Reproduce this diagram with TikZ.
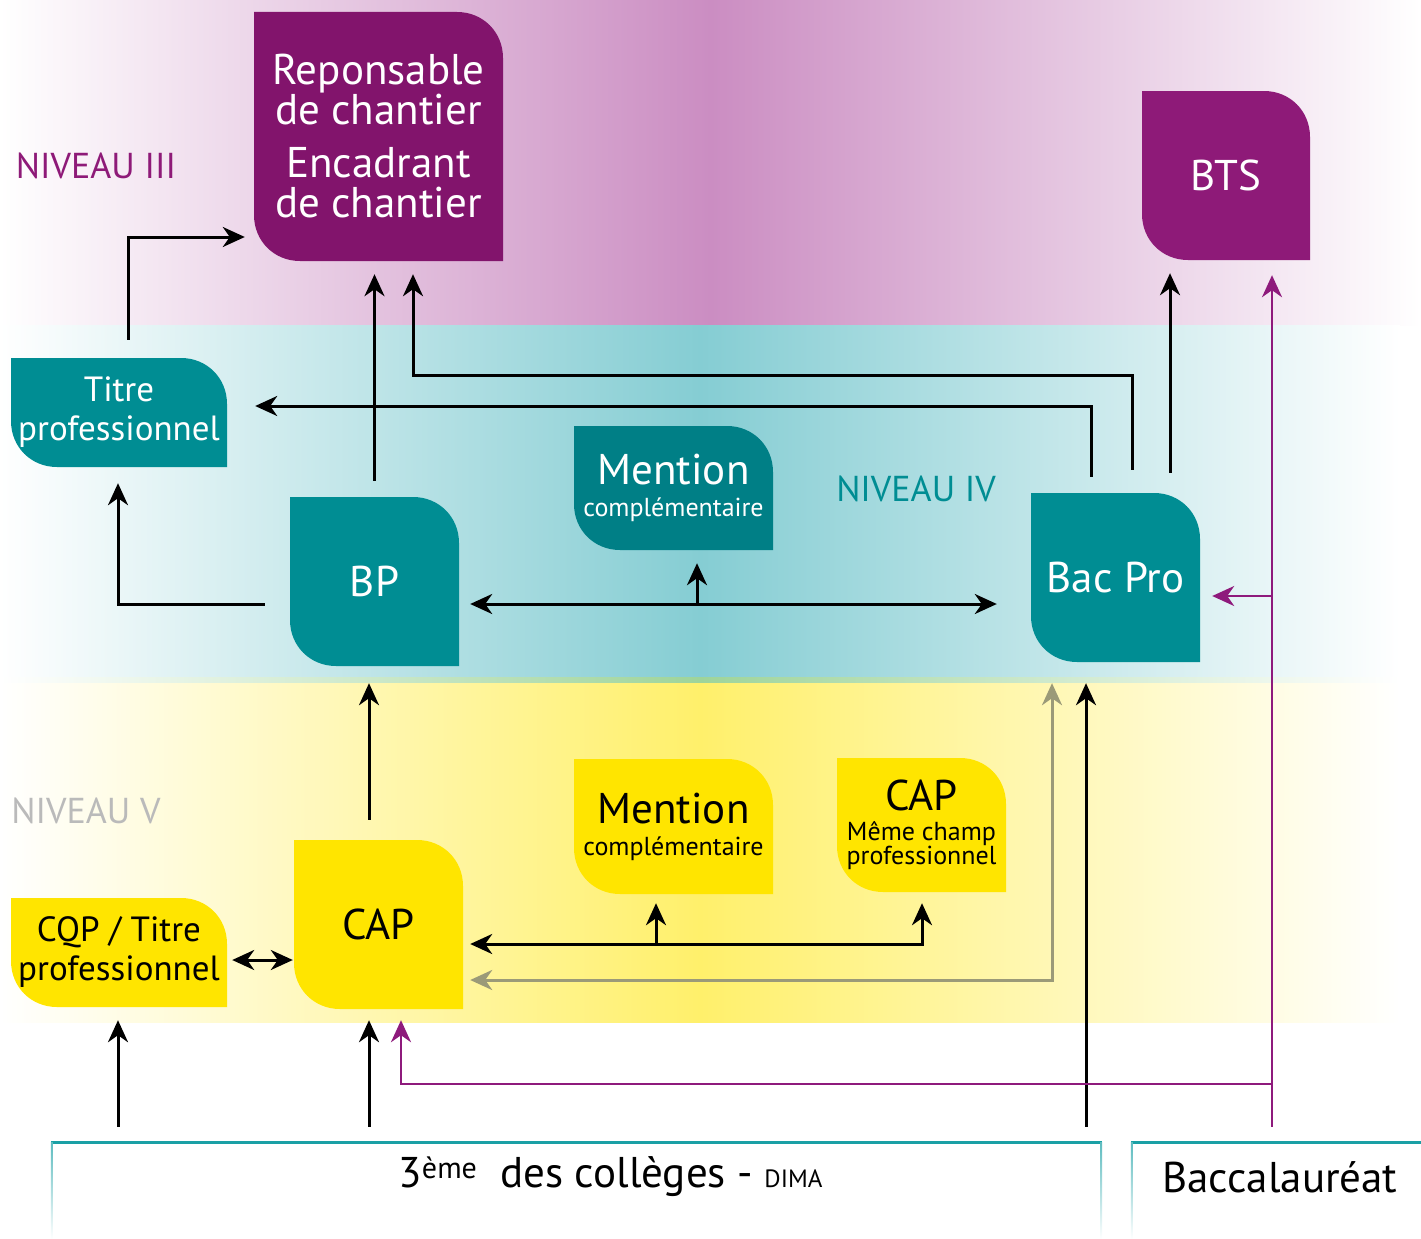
\documentclass[tikz,border=0pt]{standalone}
\usepackage{fontspec}
\setmainfont{PT Sans}
\usetikzlibrary{arrows.meta}

\definecolor{violetresp}{HTML}{82146C}
\definecolor{violetbts}{HTML}{8E1A78}
\definecolor{bleubloc}{HTML}{008D93}
\definecolor{bleumention}{HTML}{007F86}
\definecolor{jaunebloc}{HTML}{FFE500}
\definecolor{bandeviolet}{HTML}{CB8DC2}
\definecolor{bandebleu}{HTML}{85CDD3}
\definecolor{bandejaune}{HTML}{FFF06B}
\definecolor{vertligne}{HTML}{9ED49A}
\definecolor{violetfleche}{HTML}{8E1A7C}
\definecolor{grisfleche}{HTML}{9B9A78}
\definecolor{bleucadre}{HTML}{1AA0A5}

\begin{document}
\begin{tikzpicture}[x=1pt, y=-1pt,
	>={Stealth[length=22pt,width=20pt,inset=7pt]},
	bloc/.style={inner sep=0pt, align=center, path picture={
		\coordinate (ne) at (path picture bounding box.north east);
		\coordinate (sw) at (path picture bounding box.south west);
		\fill[#1] (sw |- ne) -- ([xshift=-46pt]ne)
			.. controls ([xshift=-20pt]ne) and ([yshift=-20pt]ne) .. ([yshift=-46pt]ne)
			-- (ne |- sw) -- ([xshift=46pt]sw)
			.. controls ([xshift=20pt]sw) and ([yshift=20pt]sw) .. ([yshift=46pt]sw) -- cycle;}},
	grand/.style={minimum width=169pt, minimum height=169pt},
	moyen/.style={minimum width=199pt},
	petit/.style={minimum width=216pt, minimum height=109pt},
	titre/.style={font=\fontsize{43}{38}\selectfont},
	texte/.style={font=\fontsize{35}{39}\selectfont},
	mention/.style={font=\fontsize{26}{32}\selectfont},
	niveau/.style={font=\fontsize{36}{40}\selectfont},
	fleche/.style={line width=3pt, ->, shorten >=13pt, shorten <=16pt},
	flechev/.style={line width=2.5pt, violetfleche, ->, shorten >=13pt, shorten <=16pt}]

\useasboundingbox (0,0) rectangle (1421,1239);

% les bandes des niveaux
\shade[left color=white, right color=white, middle color=bandeviolet] (0,0) rectangle (1421,325);
\shade[left color=white, right color=white, middle color=bandebleu] (0,325) rectangle (1400,678);
\shade[left color=white, right color=white, middle color=vertligne] (0,677) rectangle (1400,683);
\shade[left color=white, right color=white, middle color=bandejaune] (0,683) rectangle (1400,1022);

\node[niveau, text=violetbts] (n3) at (96,166) {NIVEAU III};
\node[niveau, text=bleubloc] (n4) at (916,489) {NIVEAU IV};
\node[niveau, text=black!27] (n5) at (86,811) {NIVEAU V};

% niveau III
\node[bloc=violetresp, text=white, font=\fontsize{43}{40}\selectfont, minimum width=249pt, minimum height=249pt] (resp) at (378.5,136.5)
	{Reponsable\\de chantier\\[13pt]Encadrant\\de chantier};
\node[bloc=violetbts, text=white, titre, minimum width=168pt, minimum height=169pt] (bts) at (1226,175.5) {BTS};

% niveau IV
\node[bloc=bleubloc, text=white, texte, petit] (titre) at (119,412.5) {Titre\\professionnel};
\node[bloc=bleubloc, text=white, titre, grand] (bp) at (374.5,581.5) {BP};
\node[bloc=bleumention, text=white, mention, moyen, minimum height=124pt] (mc4) at (673.5,488)
	{{\fontsize{43}{38}\selectfont Mention}\\complémentaire};
\node[bloc=bleubloc, text=white, titre, grand] (bacpro) at (1115.5,577.5) {Bac Pro};

% niveau V
\node[bloc=jaunebloc, mention, moyen, minimum height=135pt] (mc5) at (673.5,826.5)
	{{\fontsize{43}{38}\selectfont Mention}\\complémentaire};
\node[bloc=jaunebloc, font=\fontsize{26}{24}\selectfont, minimum width=169pt, minimum height=134pt] (capmc) at (921.5,825)
	{{\fontsize{43}{38}\selectfont CAP}\\[6pt]Même champ\\professionnel};
\node[bloc=jaunebloc, texte, petit] (cqp) at (119,952.5) {CQP / Titre\\professionnel};
\node[bloc=jaunebloc, titre, grand] (cap) at (378.5,924.5) {CAP};

% en bas
\node[minimum width=1051pt, minimum height=96pt, inner sep=0pt] (college) at (576.5,1191) {};
\node[minimum width=290pt, minimum height=96pt, inner sep=0pt] (bac) at (1276,1191) {};
\draw[line width=3pt, bleucadre] (college.north west) -- (college.north east);
\draw[line width=3pt, bleucadre] (bac.north west) -- (bac.north east);
\shade[top color=bleucadre!70, bottom color=white] (college.north west) rectangle ([xshift=2pt]college.south west);
\shade[top color=bleucadre!70, bottom color=white] ([xshift=-2pt]college.north east) rectangle (college.south east);
\shade[top color=bleucadre!70, bottom color=white] (bac.north west) rectangle ([xshift=2pt]bac.south west);
\node[titre] (college texte) at ([xshift=34pt,yshift=-34pt]college.north)
	{3\textsuperscript{ème}\ \ des collèges - {\fontsize{25}{25}\selectfont DIMA}};
\node[titre] (bac texte) at ([xshift=4pt,yshift=-34pt]bac.north) {Baccalauréat};

% colonnes et lignes des fleches
\coordinate (xa) at (128,0);
\coordinate (xb) at (413,0);
\coordinate (xc) at (1091,0);
\coordinate (xd) at (1132,0);
\coordinate (xe) at (1170,0);
\coordinate (xf) at (118,0);
\coordinate (xg) at (697,0);
\coordinate (xh) at (656,0);
\coordinate (xi) at (922,0);
\coordinate (xj) at (1052,0);
\coordinate (xk) at (1086,0);
\coordinate (xl) at (1272,0);
\coordinate (xm) at (401,0);
\coordinate (xn) at (369,0);
\coordinate (ya) at (0,237);
\coordinate (yb) at (0,375);
\coordinate (yc) at (0,406);
\coordinate (yd) at (0,604);
\coordinate (ye) at (0,944);
\coordinate (yf) at (0,980);
\coordinate (yg) at (0,1084);
\coordinate (yh) at (0,596);
\coordinate (yi) at (0,960);

% Connexions
\draw[fleche, shorten <=18pt, shorten >=9pt] (xa |- titre.north) |- (resp.west |- ya);
\draw[fleche] (bp.north) -- (bp.north |- resp.south);
\draw[fleche, shorten <=23pt] (xd |- bacpro.north) |- (xb |- yb) -- (xb |- resp.south);
\draw[fleche, shorten <=16pt, shorten >=28pt] (xc |- bacpro.north) |- (titre.east |- yc);
\draw[fleche, shorten <=20pt] (xe |- bacpro.north) -- (xe |- bts.south);
\draw[fleche, shorten <=25pt, shorten >=16pt] (bp.west |- yd) -| (xf |- titre.south);
\draw[fleche, <->, shorten <=11pt, shorten >=34pt] (bp.east |- yd) -- (bacpro.west |- yd);
\draw[fleche, shorten <=0pt] (xg |- yd) -- (xg |- mc4.south);
\draw[fleche, shorten <=20pt, shorten >=17pt] (xn |- cap.north) -- (xn |- bp.south);
\draw[fleche, <->, shorten <=5pt, shorten >=1pt] (cqp.east |- yi) -- (cap.west |- yi);
\draw[fleche, <->, shorten <=7pt, shorten >=11pt] (cap.east |- ye) -| (xi |- capmc.south);
\draw[fleche, shorten <=0pt, shorten >=9pt] (xh |- ye) -- (xh |- mc5.south);
\draw[fleche, grisfleche, <->, shorten <=7pt, shorten >=21pt] (cap.east |- yf) -| (xj |- bacpro.south);
\draw[fleche, shorten >=13pt] (xf |- college.north) -- (xf |- cqp.south);
\draw[fleche, shorten >=11pt] (xn |- college.north) -- (xn |- cap.south);
\draw[fleche, shorten >=21pt] (xk |- college.north) -- (xk |- bacpro.south);
\draw[flechev, shorten >=15pt] (xl |- bac.north) -- (xl |- bts.south);
\draw[flechev, shorten <=0pt, shorten >=12pt] (xl |- yh) -- (bacpro.east |- yh);
\draw[flechev, shorten <=0pt, shorten >=11pt] (xl |- yg) -| (xm |- cap.south);

\end{tikzpicture}
\end{document}
